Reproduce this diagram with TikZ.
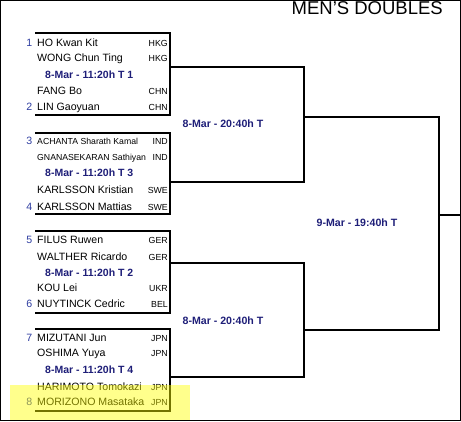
\documentclass[tikz,border=0pt]{standalone}
\usepackage{fontspec}
\setmainfont{Liberation Sans}
\definecolor{numblue}{RGB}{45,60,160}
\definecolor{datenavy}{RGB}{30,30,120}
\definecolor{hilite}{RGB}{255,255,0}
\tikzset{
  bline/.style={line width=2.5pt},
  pname/.style={anchor=base west, inner sep=0pt, font=\fontsize{10.6}{12}\selectfont},
  sname/.style={anchor=base west, inner sep=0pt, font=\fontsize{8.7}{10}\selectfont},
  ccode/.style={anchor=base east, inner sep=0pt, font=\fontsize{8.8}{10}\selectfont},
  seed/.style={anchor=base east, inner sep=0pt, text=numblue, font=\fontsize{10.6}{12}\selectfont},
  mdate/.style={anchor=base west, inner sep=0pt, text=datenavy, font=\bfseries\fontsize{10.5}{12}\selectfont},
  rdate/.style={anchor=base, inner sep=0pt, text=datenavy, font=\bfseries\fontsize{10.6}{12}\selectfont},
}
\begin{document}
\begin{tikzpicture}[x=1pt,y=-1pt]
\useasboundingbox (0,0) rectangle (461,421);
% frame
\draw[line width=1.2pt] (0.6,0.6) rectangle (460.4,420.4);
% title
\node[anchor=base east, inner sep=0pt, font=\fontsize{18.5}{20}\selectfont] (title) at (443,14.2) {MEN'S DOUBLES};

% ---- box 1
\node[seed] (s1) at (32.5,46.8) {1};
\node[pname] (p1a) at (37,46.8) {HO Kwan Kit};
\node[ccode] (c1a) at (168,46.8) {HKG};
\node[pname] (p1b) at (37,61.8) {WONG Chun Ting};
\node[ccode] (c1b) at (168,61.8) {HKG};
\node[mdate] (d1) at (45,78.8) {8-Mar - 11:20h T 1};
\node[pname] (p2a) at (37,94.8) {FANG Bo};
\node[ccode] (c2a) at (168,94.8) {CHN};
\node[seed] (s2) at (32.5,110.8) {2};
\node[pname] (p2b) at (37,110.8) {LIN Gaoyuan};
\node[ccode] (c2b) at (168,110.8) {CHN};

% ---- box 2
\node[seed] (s3) at (32.5,144.8) {3};
\node[sname] (p3a) at (37,144.1) {ACHANTA Sharath Kamal};
\node[ccode] (c3a) at (168,144.8) {IND};
\node[sname] (p3b) at (37,160.1) {GNANASEKARAN Sathiyan};
\node[ccode] (c3b) at (168,160.8) {IND};
\node[mdate] (d3) at (45,176.8) {8-Mar - 11:20h T 3};
\node[pname] (p4a) at (37,193.8) {KARLSSON Kristian};
\node[ccode] (c4a) at (168,193.8) {SWE};
\node[seed] (s4) at (32.5,210.8) {4};
\node[pname] (p4b) at (37,210.8) {KARLSSON Mattias};
\node[ccode] (c4b) at (168,210.8) {SWE};

% ---- box 3
\node[seed] (s5) at (32.5,243.8) {5};
\node[pname] (p5a) at (37,243.8) {FILUS Ruwen};
\node[ccode] (c5a) at (168,243.8) {GER};
\node[pname] (p5b) at (37,260.8) {WALTHER Ricardo};
\node[ccode] (c5b) at (168,260.8) {GER};
\node[mdate] (d2) at (45,276.8) {8-Mar - 11:20h T 2};
\node[pname] (p6a) at (37,291.8) {KOU Lei};
\node[ccode] (c6a) at (168,291.8) {UKR};
\node[seed] (s6) at (32.5,307.8) {6};
\node[pname] (p6b) at (37,307.8) {NUYTINCK Cedric};
\node[ccode] (c6b) at (168,307.8) {BEL};

% ---- box 4
\node[seed] (s7) at (32.5,341.8) {7};
\node[pname] (p7a) at (37,341.8) {MIZUTANI Jun};
\node[ccode] (c7a) at (168,341.8) {JPN};
\node[pname] (p7b) at (37,356.8) {OSHIMA Yuya};
\node[ccode] (c7b) at (168,356.8) {JPN};
\node[mdate] (d4) at (45,373.8) {8-Mar - 11:20h T 4};
\node[pname] (p8a) at (37,390.8) {HARIMOTO Tomokazi};
\node[ccode] (c8a) at (168,390.8) {JPN};
\node[seed] (s8) at (32.5,405.8) {8};
\node[pname] (p8b) at (37,405.8) {MORIZONO Masataka};
\node[ccode] (c8b) at (168,405.8) {JPN};

% round labels
\node[rdate] (r2a) at (223,127.8) {8-Mar - 20:40h T};
\node[rdate] (r2b) at (223,324.8) {8-Mar - 20:40h T};
\node[rdate] (fin) at (357,226.8) {9-Mar - 19:40h T};

% bracket coordinates
\coordinate (b1t) at (35,33);   \coordinate (b1b) at (35,115);
\coordinate (b2t) at (35,133);  \coordinate (b2b) at (35,214);
\coordinate (b3t) at (35,231);  \coordinate (b3b) at (35,313);
\coordinate (b4t) at (35,329);  \coordinate (b4b) at (35,411);
\coordinate (b1o) at (170,67);  \coordinate (b2o) at (170,182);
\coordinate (b3o) at (170,263); \coordinate (b4o) at (170,377);
\coordinate (rx) at (304,0);
\coordinate (q1) at (304,117);  \coordinate (q2) at (304,330);
\coordinate (fx) at (439,0);
\coordinate (fo) at (439,215);  \coordinate (fend) at (460,215);

% first-round boxes
\foreach \b in {b1,b2,b3,b4}{
  \draw[bline] (\b t) -- (\b t -| b1o) -- (\b b -| b1o) -- (\b b);
}
% second round
\draw[bline] (b1o) -- (b1o -| rx) -- (b2o -| rx) -- (b2o);
\draw[bline] (b3o) -- (b3o -| rx) -- (b4o -| rx) -- (b4o);
% semi / final
\draw[bline] (q1) -- (q1 -| fx) -- (q2 -| fx) -- (q2);
\draw[bline] (fo) -- (fend);

% highlight
\fill[hilite, opacity=0.45] (10,385) rectangle (190,419.5);
\end{tikzpicture}
\end{document}
